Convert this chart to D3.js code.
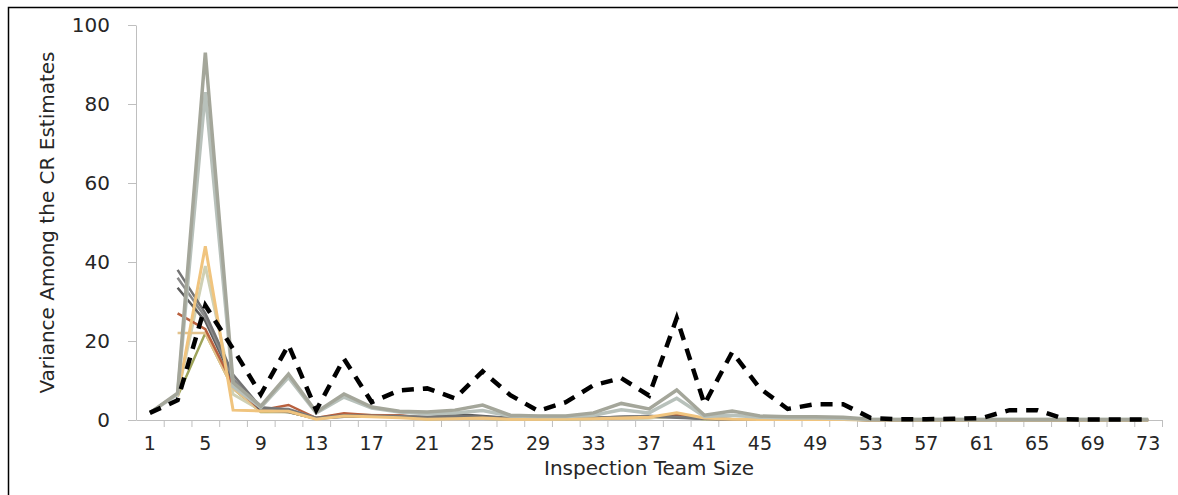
<!DOCTYPE html>
<html>
<head>
<meta charset="utf-8">
<script src="https://cdn.jsdelivr.net/npm/d3@7"></script>
<style>
  html, body { margin: 0; padding: 0; background: #fff; }
  svg { display: block; }
  text { font-family: "DejaVu Sans", sans-serif; fill: #262626; }
</style>
</head>
<body>
<svg id="chart" width="1178" height="495"></svg>
<script>
// Inspection team sizes (odd sizes 1..73)
const teamSizes = d3.range(1, 74, 2);
const xTickLabels = d3.range(1, 74, 4);
const yTicks = [0, 20, 40, 60, 80, 100];

// Variance among the CR estimates, one array per estimator (null = not defined)
const estimatorA = [1.8, 6.8, 93, 9.5, 3.5, 11.6, 2, 6.6, 3.3, 2.2, 2, 2.5, 3.8, 1.2, 1, 1, 1.8, 4.2, 2.8, 7.6, 1.2, 2.3, 1, 0.8, 0.8, 0.7, 0.2, 0.1, 0.1, 0.1, 0.1, 0.1, 0.1, 0.1, 0.1, 0.1, 0.1];
const estimatorB = [1.8, 6.5, 83, 8.5, 3.2, 10.8, 1.8, 5.8, 3, 2, 1.6, 1.8, 2.4, 1, 0.9, 0.9, 1.2, 2.6, 1.8, 5.5, 0.9, 1.2, 0.7, 0.5, 0.5, 0.4, 0.1, 0.1, 0.1, 0.1, 0.1, 0.1, 0.1, 0.1, 0.1, 0.1, 0.1];
const estimatorC = [null, 38, 27, 11.5, 3.2, 2.6, 0.5, 1.2, 1, 0.9, 0.7, 1, 0.8, 0.5, 0.5, 0.5, 0.5, 0.7, 0.9, 0.6, 0.3, 0.2, 0.2, 0.1, 0.1, 0.1, 0, 0, 0, 0, 0, 0, 0, 0, 0, 0, 0];
const estimatorD = [null, 36, 26, 10.5, 3, 2.8, 0.5, 1, 1, 1, 0.8, 0.9, 0.7, 0.4, 0.4, 0.5, 0.6, 0.8, 1, 0.7, 0.3, 0.2, 0.1, 0.1, 0.1, 0.1, 0, 0, 0, 0, 0, 0, 0, 0, 0, 0, 0];
const estimatorE = [null, 33.5, 25, 10, 2.5, 2, 0.3, 0.8, 0.8, 0.8, 0.6, 1.5, 1, 0.5, 0.4, 0.4, 0.5, 0.8, 1, 0.8, 0.4, 0.2, 0.1, 0.1, 0.1, 0.1, 0, 0, 0, 0, 0, 0, 0, 0, 0, 0, 0];
const estimatorF = [null, 27, 23, 9, 2.5, 3.8, 0.5, 1.7, 1.2, 1.2, 0.5, 1.2, 0.8, 0.3, 0.3, 0.3, 0.4, 0.6, 0.8, 1.2, 0.3, 0.2, 0.1, 0.1, 0.1, 0.1, 0, 0, 0, 0, 0, 0, 0, 0, 0, 0, 0];
const estimatorG = [null, 22, 22, 8, 2.2, 2.5, 0.3, 1.3, 1, 1, 0.3, 0.5, 0.3, 0.2, 0.2, 0.2, 0.3, 0.4, 0.6, 1.4, 0.3, 0.1, 0.1, 0.1, 0.1, 0.1, 0, 0, 0, 0, 0, 0, 0, 0, 0, 0, 0];
const estimatorH = [null, 6, 44, 2.5, 2.3, 2.2, 0.2, 1, 0.8, 0.6, 0.2, 0.3, 0.5, 0.2, 0.2, 0.3, 0.3, 0.5, 0.7, 1.8, 0.5, 0.2, 0.1, 0.1, 0.1, 0.1, 0, 0, 0, 0, 0, 0, 0, 0, 0, 0, 0];
const estimatorI = [null, 6.5, 39, 6.5, 2.5, 2, 0.5, 1.4, 1.2, 1.1, 0.4, 0.6, 0.5, 0.3, 0.3, 0.3, 0.3, 0.4, 0.5, 1, 0.3, 0.2, 0.1, 0.1, 0.1, 0.1, 0, 0, 0, 0, 0, 0, 0, 0, 0, 0, 0];
const estimatorJ = [null, 6, 22, 8, 2, 2, 0.3, 1.5, 1, 0.9, 0.2, 0.4, 0.3, 0.2, 0.2, 0.2, 0.3, 0.4, 0.5, 0.9, 0.2, 0.1, 0.1, 0.1, 0.1, 0.1, 0, 0, 0, 0, 0, 0, 0, 0, 0, 0, 0];
const overall = [1.8, 5, 29, 18, 6.5, 19, 2.5, 15.5, 4.5, 7.5, 8, 5.5, 12.3, 6.3, 2.3, 4.5, 8.8, 10.6, 6.2, 25.8, 4, 17.2, 8, 2.8, 4, 4, 0.5, 0.2, 0.2, 0.3, 0.5, 2.5, 2.5, 0.2, 0.1, 0.1, 0.1];

const series = [
  { values: estimatorJ, color: "#9ea35a", width: 2.5 },
  { values: estimatorI, color: "#cfd0b4", width: 3 },
  { values: estimatorG, color: "#e3c38d", width: 2.5 },
  { values: estimatorF, color: "#b9603e", width: 2.5 },
  { values: estimatorE, color: "#5c5c5c", width: 2.5 },
  { values: estimatorD, color: "#8a8a8a", width: 2.5 },
  { values: estimatorC, color: "#747474", width: 2.5 },
  { values: estimatorH, color: "#f0c47e", width: 3 },
  { values: estimatorB, color: "#b8c1bb", width: 3.5 },
  { values: estimatorA, color: "#a4a69a", width: 3.5 }
];

const svg = d3.select("#chart");
const plotLeft = 136, plotRight = 1162, plotTop = 25, plotBottom = 420;

// outer frame
svg.append("path")
  .attr("d", `M8.5,500 V7.5 H1180`)
  .attr("fill", "none").attr("stroke", "#000").attr("stroke-width", 1.5);

const x = d3.scaleBand().domain(teamSizes).range([plotLeft, plotRight]).padding(0);
const y = d3.scaleLinear().domain([0, 100]).range([plotBottom, plotTop]);
const cx = d => x(d) + x.bandwidth() / 2;

// y axis
const yAxis = svg.append("g").attr("transform", `translate(${plotLeft},0)`)
  .call(d3.axisLeft(y).tickValues(yTicks).tickSize(8).tickPadding(18).tickSizeOuter(0));
yAxis.select(".domain").attr("stroke", "#bfbfbf");
yAxis.selectAll(".tick line").attr("stroke", "#bfbfbf");
yAxis.selectAll("text").style("font-size", "20px").attr("fill", "#2a2a2a");

// x axis: labels for every other category
const xAxis = svg.append("g").attr("transform", `translate(0,${plotBottom})`)
  .call(d3.axisBottom(x).tickValues(xTickLabels).tickSize(0).tickPadding(17));
xAxis.select(".domain").attr("stroke", "#bfbfbf");
xAxis.selectAll("text").style("font-size", "19px").attr("fill", "#2a2a2a");

// x tick marks between categories
const xb = d3.scaleLinear().domain([0, teamSizes.length]).range([plotLeft, plotRight]);
const xMarks = svg.append("g").attr("transform", `translate(0,${plotBottom})`)
  .call(d3.axisBottom(xb).tickValues(d3.range(1, teamSizes.length + 1)).tickSize(7).tickFormat(""));
xMarks.select(".domain").remove();
xMarks.selectAll(".tick line").attr("stroke", "#bfbfbf");

// axis titles
svg.append("text")
  .attr("transform", `translate(54,${(plotTop + plotBottom) / 2}) rotate(-90)`)
  .attr("text-anchor", "middle")
  .style("font-size", "20px")
  .text("Variance Among the CR Estimates");

svg.append("text")
  .attr("x", (plotLeft + plotRight) / 2).attr("y", 475)
  .attr("text-anchor", "middle")
  .style("font-size", "20px")
  .text("Inspection Team Size");

const line = d3.line()
  .defined(d => d.v !== null)
  .x(d => cx(d.t))
  .y(d => y(d.v));

const toPts = vals => teamSizes.map((t, i) => ({ t, v: vals[i] }));

svg.append("g").selectAll("path")
  .data(series)
  .join("path")
  .attr("d", s => line(toPts(s.values)))
  .attr("fill", "none")
  .attr("stroke", s => s.color)
  .attr("stroke-width", s => s.width)
  .attr("stroke-linejoin", "miter");

svg.append("path")
  .attr("d", line(toPts(overall)))
  .attr("fill", "none")
  .attr("stroke", "#000")
  .attr("stroke-width", 4.5)
  .attr("stroke-dasharray", "12,9");
</script>
</body>
</html>
